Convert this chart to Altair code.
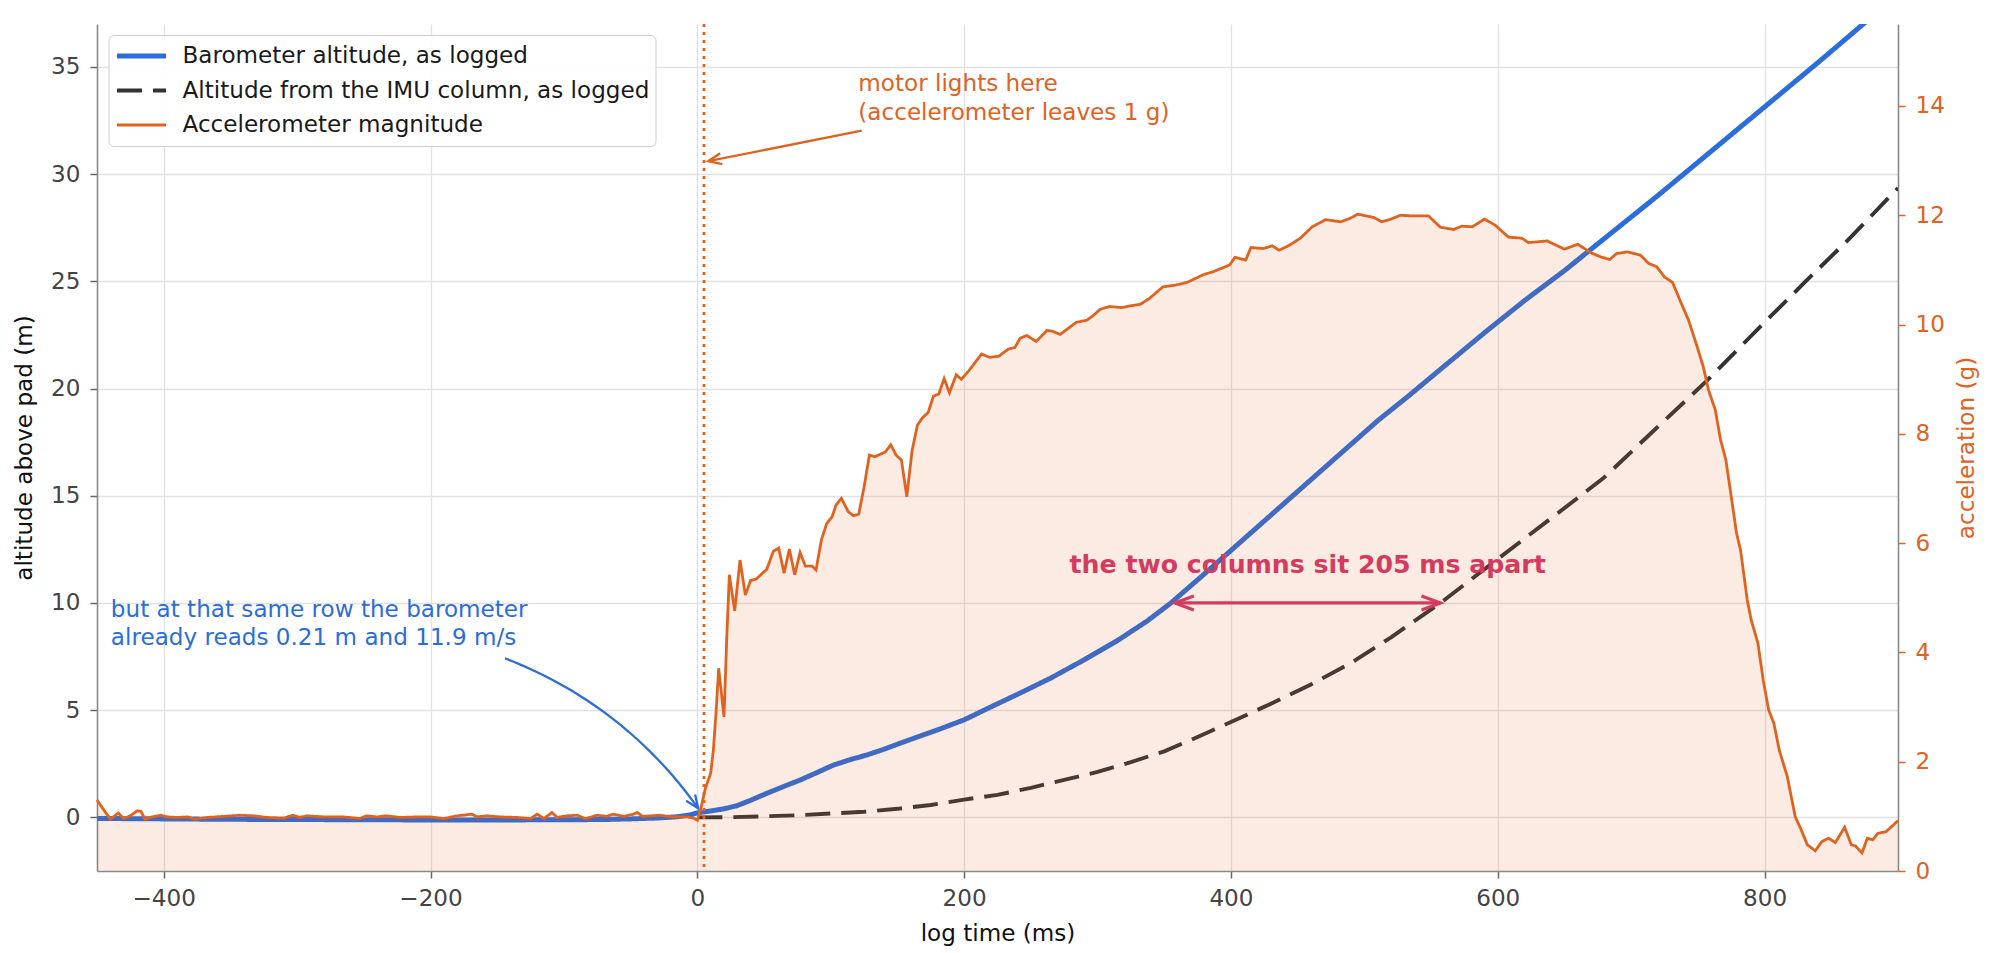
import math
import altair as alt
import pandas as pd

# ---------------- data ----------------
S_BARO = "Barometer altitude, as logged"
S_IMU = "Altitude from the IMU column, as logged"
S_ACC = "Accelerometer magnitude"
SERIES = [S_BARO, S_IMU, S_ACC]

BARO_T = [-450, -400, -350, -300, -250, -200, -150, -100, -70, -50,
          -30, -15, -5, 0, 10, 20, 30, 40, 52, 65,
          77, 90, 102, 115, 127, 140, 152, 165, 180, 200,
          220, 242, 265, 290, 315, 337, 355, 380, 400, 430,
          460, 490, 510, 534, 560, 590, 620, 650, 677, 692,
          720, 750, 780, 810, 840, 874, 900]
BARO_M = [-0.05, -0.07, -0.09, -0.10, -0.11, -0.12, -0.12, -0.11, -0.10, -0.07,
          -0.03, 0.03, 0.12, 0.21, 0.30, 0.40, 0.55, 0.80, 1.12, 1.45,
          1.74, 2.10, 2.44, 2.70, 2.91, 3.18, 3.46, 3.75, 4.08, 4.55,
          5.15, 5.80, 6.50, 7.35, 8.25, 9.15, 10.00, 11.35, 12.45, 14.10,
          15.75, 17.40, 18.50, 19.70, 21.05, 22.60, 24.10, 25.50, 26.85, 27.60,
          29.00, 30.55, 32.10, 33.65, 35.20, 37.00, 38.35]

IMU_T = [0, 25, 50, 75, 100, 125, 150, 175, 200, 225,
         250, 275, 300, 325, 350, 375, 400, 430, 460, 490,
         520, 557, 600, 640, 679, 718, 756, 797, 830, 865,
         900]
IMU_M = [0.00, 0.01, 0.05, 0.10, 0.18, 0.26, 0.40, 0.58, 0.83, 1.05,
         1.38, 1.75, 2.12, 2.58, 3.08, 3.75, 4.45, 5.30, 6.20, 7.20,
         8.40, 10.00, 12.05, 13.95, 15.81, 18.10, 20.32, 22.90, 24.95, 27.08,
         29.35]

ACC_PAD_T = [-450, -445, -440, -434, -430, -425, -420, -417, -414, -409,
             -402, -397, -390, -382, -377, -367, -355, -343, -333, -323,
             -310, -303, -298, -293, -280, -265, -253, -248, -240, -233,
             -223, -210, -200, -190, -180, -169, -165, -158, -148, -135,
             -125, -120, -115, -109, -105, -98, -90, -84, -75, -68,
             -63, -55, -48, -45, -41, -35, -28, -22, -16, -8,
             -3, 0]
ACC_PAD_G = [1.30, 1.12, 0.95, 1.06, 0.96, 1.01, 1.10, 1.09, 0.95, 0.99,
             1.02, 0.99, 0.98, 0.99, 0.95, 0.98, 1.00, 1.02, 1.01, 0.98,
             0.97, 1.02, 0.98, 1.01, 0.99, 0.99, 0.96, 1.01, 0.99, 1.01,
             0.98, 0.99, 0.99, 0.96, 1.01, 1.04, 0.99, 1.01, 0.99, 0.98,
             0.96, 1.04, 0.96, 1.07, 0.98, 1.01, 1.02, 0.96, 1.02, 1.00,
             1.04, 1.00, 1.04, 1.07, 1.00, 1.01, 1.02, 1.00, 0.99, 0.99,
             0.97, 0.93]

ACC_BURN_T = [3, 6, 10, 12, 14, 16, 20, 22, 24, 28,
              32, 36, 40, 44, 52, 57, 61, 65, 69, 73,
              77, 81, 86, 89, 93, 97, 101, 104, 108, 113,
              117, 121, 125, 129, 133, 141, 145, 149, 153, 157,
              161, 165, 169, 173, 177, 181, 185, 189, 194, 198]
ACC_BURN_G = [1.18, 1.51, 1.79, 2.21, 2.89, 3.71, 2.82, 4.23, 5.42, 4.76,
              5.69, 5.05, 5.32, 5.34, 5.52, 5.85, 5.91, 5.45, 5.89, 5.42,
              5.83, 5.58, 5.58, 5.51, 6.06, 6.36, 6.48, 6.70, 6.82, 6.58,
              6.50, 6.53, 7.03, 7.61, 7.58, 7.67, 7.80, 7.61, 7.52, 6.85,
              7.70, 8.16, 8.30, 8.39, 8.69, 8.73, 9.01, 8.75, 9.08, 9.00]

ACC_PLAT_T = [204, 213, 219, 226, 233, 238, 242, 247, 254, 262,
              266, 272, 278, 284, 292, 297, 302, 309, 318, 324,
              332, 339, 349, 358, 367, 374, 379, 387, 399, 403,
              411, 415, 424, 431, 436, 443, 452, 461, 471, 482,
              489, 495, 507, 513, 520, 527, 534]
ACC_PLAT_G = [9.17, 9.46, 9.40, 9.42, 9.55, 9.58, 9.75, 9.80, 9.69, 9.89,
              9.88, 9.82, 9.93, 10.04, 10.08, 10.17, 10.28, 10.33, 10.31, 10.34,
              10.37, 10.48, 10.69, 10.72, 10.77, 10.85, 10.91, 10.97, 11.09, 11.23,
              11.18, 11.41, 11.39, 11.44, 11.36, 11.44, 11.58, 11.79, 11.92, 11.88,
              11.94, 12.02, 11.96, 11.88, 11.93, 12.00, 11.99]

ACC_END_T = [548, 557, 567, 573, 581, 590, 598, 608, 618, 623,
             637, 650, 660, 670, 677, 684, 689, 697, 707, 713,
             719, 725, 731, 737, 743, 749, 754, 758, 763, 767,
             771, 775, 779, 782, 787, 790, 795, 799, 803, 807,
             811, 817, 823, 827, 832, 838, 843, 848, 853, 860,
             865, 868, 873, 877, 881, 885, 891, 900]
ACC_END_G = [11.99, 11.78, 11.74, 11.80, 11.79, 11.93, 11.82, 11.60, 11.58, 11.50,
             11.53, 11.38, 11.47, 11.31, 11.24, 11.19, 11.30, 11.33, 11.27, 11.12,
             11.06, 10.87, 10.77, 10.42, 10.08, 9.63, 9.23, 8.80, 8.44, 7.89,
             7.52, 6.85, 6.18, 5.87, 4.96, 4.59, 4.17, 3.49, 2.95, 2.70,
             2.21, 1.73, 0.99, 0.78, 0.48, 0.37, 0.54, 0.60, 0.52, 0.80,
             0.48, 0.46, 0.33, 0.60, 0.57, 0.69, 0.72, 0.92]

# annotations (data units: ms, metres)
IGNITION_T = [5]
MOTOR_NOTE_T = [120.7, 120.7]
MOTOR_NOTE_M = [34.2, 32.84]
MOTOR_NOTE = ["motor lights here", "(accelerometer leaves 1 g)"]
MOTOR_ARROW_T = [123.2, 8.2]
MOTOR_ARROW_M = [32.03, 30.6]

BARO_NOTE_T = [-439.6, -439.6]
BARO_NOTE_M = [9.67, 8.35]
BARO_NOTE = ["but at that same row the barometer", "already reads 0.21 m and 11.9 m/s"]
BARO_ARROW_T = [-144.2, 0.7]
BARO_ARROW_M = [7.42, 0.42]
BARO_ARROW_RAD = -0.15

GAP_T = [358, 557]
GAP_M = [10.0, 10.0]
GAP_NOTE_T = [457.5]
GAP_NOTE_M = [11.77]
GAP_NOTE = ["the two columns sit 205 ms apart"]

X_DOMAIN = [-450, 900]
YL_DOMAIN = [-2.5, 37]
YR_DOMAIN = [0, 15.5]
X_TICKS = [-400, -200, 0, 200, 400, 600, 800]
YL_TICKS = [0, 5, 10, 15, 20, 25, 30, 35]
YR_TICKS = [0, 2, 4, 6, 8, 10, 12, 14]

# ---------------- styling ----------------
W, H = 1801, 847
FONT = "DejaVu Sans"
BLUE = "#2a6ddb"
DARK = "#333333"
ORANGE = "#e0621f"
CRIMSON = "#d1366a"
FS = 23.1

PX_T = W / (X_DOMAIN[1] - X_DOMAIN[0])
PX_M = H / (YL_DOMAIN[1] - YL_DOMAIN[0])


def to_screen(t, m):
    return (t - X_DOMAIN[0]) * PX_T, (YL_DOMAIN[1] - m) * PX_M


def to_data(sx, sy):
    return X_DOMAIN[0] + sx / PX_T, YL_DOMAIN[1] - sy / PX_M


def screen_angle(t0, m0, t1, m1):
    x0, y0 = to_screen(t0, m0)
    x1, y1 = to_screen(t1, m1)
    return math.degrees(math.atan2(y1 - y0, x1 - x0)) % 360


def arc_path(t0, m0, t1, m1, rad, n=24):
    """matplotlib-style arc3 connector, returned in data units plus end angle."""
    x0, y0 = to_screen(t0, m0)
    x1, y1 = to_screen(t1, m1)
    u0, v0, u1, v1 = x0, -y0, x1, -y1
    dx, dy = u1 - u0, v1 - v0
    cu, cv = (u0 + u1) / 2 + rad * dy, (v0 + v1) / 2 - rad * dx
    ts, ms = [], []
    for i in range(n + 1):
        s = i / n
        u = (1 - s) ** 2 * u0 + 2 * (1 - s) * s * cu + s ** 2 * u1
        v = (1 - s) ** 2 * v0 + 2 * (1 - s) * s * cv + s ** 2 * v1
        t, m = to_data(u, -v)
        ts.append(t)
        ms.append(m)
    ang = math.degrees(math.atan2(-(v1 - cv), u1 - cu)) % 360
    return ts, ms, ang


X_ENC = alt.X("t:Q", scale=alt.Scale(domain=X_DOMAIN, nice=False, zero=False),
              axis=alt.Axis(values=X_TICKS, title="log time (ms)", grid=True,
                            labelPadding=9, titlePadding=12))
YL_ENC = alt.Y("m:Q", scale=alt.Scale(domain=YL_DOMAIN, nice=False, zero=False),
               axis=alt.Axis(values=YL_TICKS, title="altitude above pad (m)", grid=True,
                             labelPadding=10, titlePadding=14))
YR_ENC = alt.Y("g:Q", scale=alt.Scale(domain=YR_DOMAIN, nice=False, zero=False),
               axis=alt.Axis(values=YR_TICKS, title="acceleration (g)", orient="right", grid=False,
                             labelColor=ORANGE, tickColor=ORANGE, titleColor=ORANGE,
                             titleAngle=270, labelPadding=10, titlePadding=34))

legend = alt.Legend(
    title=None, orient="none", legendX=11.5, legendY=11,
    symbolType="stroke", symbolSize=2401, clipHeight=30,
    labelFontSize=FS, labelFont=FONT, labelColor="#1a1a1a",
    labelOffset=14, labelLimit=0, padding=6, rowPadding=4.5,
    strokeColor="#cfcfcf", fillColor="rgba(255,255,255,0.9)", cornerRadius=5,
)
color_enc = alt.Color("series:N", scale=alt.Scale(domain=SERIES, range=[BLUE, DARK, ORANGE]), legend=legend)
dash_enc = alt.StrokeDash("series:N", scale=alt.Scale(domain=SERIES, range=[[1, 0], [25, 11], [1, 0]]), legend=legend)
width_enc = alt.StrokeWidth("series:N", scale=alt.Scale(type="point", domain=SERIES, range=[5.0, 2.8], padding=0), legend=legend)

# ---------------- frames ----------------
alt_df = pd.concat([
    pd.DataFrame({"t": BARO_T, "m": BARO_M, "series": S_BARO}),
    pd.DataFrame({"t": IMU_T, "m": IMU_M, "series": S_IMU}),
], ignore_index=True)

acc_df = pd.DataFrame({
    "t": ACC_PAD_T + ACC_BURN_T + ACC_PLAT_T + ACC_END_T,
    "g": ACC_PAD_G + ACC_BURN_G + ACC_PLAT_G + ACC_END_G,
})
acc_df["series"] = S_ACC

# ---------------- left (altitude) layers ----------------
alt_lines = alt.Chart(alt_df).mark_line(clip=True).encode(
    x=X_ENC, y=YL_ENC, color=color_enc, strokeDash=dash_enc, strokeWidth=width_enc,
    order="t:Q",
)

ignition = alt.Chart(pd.DataFrame({"t": IGNITION_T})).mark_rule(
    color=ORANGE, strokeWidth=2.8, strokeDash=[3, 5]
).encode(x=X_ENC)

motor_arrow = alt.Chart(pd.DataFrame({"t": MOTOR_ARROW_T, "m": MOTOR_ARROW_M})).mark_line(
    color=ORANGE, strokeWidth=2.3
).encode(x=X_ENC, y=YL_ENC)

arc_t, arc_m, arc_angle = arc_path(BARO_ARROW_T[0], BARO_ARROW_M[0],
                                   BARO_ARROW_T[1], BARO_ARROW_M[1], BARO_ARROW_RAD)
baro_arrow = alt.Chart(pd.DataFrame({"t": arc_t, "m": arc_m, "k": list(range(len(arc_t)))})).mark_line(
    color=BLUE, strokeWidth=2.3
).encode(x=X_ENC, y=YL_ENC, order="k:Q")

gap_arrow = alt.Chart(pd.DataFrame({"t": GAP_T, "m": GAP_M})).mark_line(
    color=CRIMSON, strokeWidth=3.2
).encode(x=X_ENC, y=YL_ENC)

SMALL_HEAD = "M-2.4,-1L0,0L-2.4,1"
BIG_HEAD = "M-2.7,-1L0,0L-2.7,1"


def head(t, m, angle, color, shape, size, sw):
    return alt.Chart(pd.DataFrame({"t": [t], "m": [m]})).mark_point(
        shape=shape, size=size, filled=False, color=color, strokeWidth=sw,
        opacity=1, angle=angle, strokeJoin="miter",
    ).encode(x=X_ENC, y=YL_ENC)


heads = [
    head(MOTOR_ARROW_T[-1], MOTOR_ARROW_M[-1],
         screen_angle(MOTOR_ARROW_T[0], MOTOR_ARROW_M[0], MOTOR_ARROW_T[-1], MOTOR_ARROW_M[-1]),
         ORANGE, SMALL_HEAD, 121, 2.3),
    head(BARO_ARROW_T[-1], BARO_ARROW_M[-1], arc_angle, BLUE, SMALL_HEAD, 121, 2.3),
    head(GAP_T[0], GAP_M[0], 180, CRIMSON, BIG_HEAD, 196, 3.2),
    head(GAP_T[1], GAP_M[1], 0, CRIMSON, BIG_HEAD, 196, 3.2),
]

motor_text = alt.Chart(pd.DataFrame({"t": MOTOR_NOTE_T, "m": MOTOR_NOTE_M, "label": MOTOR_NOTE})).mark_text(
    align="left", baseline="middle", fontSize=FS, font=FONT, color=ORANGE
).encode(x=X_ENC, y=YL_ENC, text="label:N")

baro_text = alt.Chart(pd.DataFrame({"t": BARO_NOTE_T, "m": BARO_NOTE_M, "label": BARO_NOTE})).mark_text(
    align="left", baseline="middle", fontSize=FS, font=FONT, color=BLUE
).encode(x=X_ENC, y=YL_ENC, text="label:N")

gap_text = alt.Chart(pd.DataFrame({"t": GAP_NOTE_T, "m": GAP_NOTE_M, "label": GAP_NOTE})).mark_text(
    align="center", baseline="middle", fontSize=25.2, font=FONT, fontWeight="bold", color=CRIMSON
).encode(x=X_ENC, y=YL_ENC, text="label:N")

left = alt.layer(alt_lines, ignition, motor_arrow, baro_arrow, gap_arrow, *heads,
                 motor_text, baro_text, gap_text)

# ---------------- right (acceleration) layers ----------------
acc_fill = alt.Chart(acc_df).mark_area(color=ORANGE, opacity=0.13).encode(
    x=X_ENC, y=YR_ENC
)
acc_line = alt.Chart(acc_df).mark_line().encode(
    x=X_ENC, y=YR_ENC, color=color_enc, strokeDash=dash_enc, strokeWidth=width_enc
)
right = alt.layer(acc_fill, acc_line)

chart = alt.layer(left, right).resolve_scale(y="independent").properties(
    width=W, height=H,
    padding={"left": 89, "top": 16, "right": 94, "bottom": 80},
    autosize=alt.AutoSizeParams(type="none"),
).configure(font=FONT).configure_view(strokeWidth=0).configure_axis(
    labelFont=FONT, titleFont=FONT, labelFontSize=FS, titleFontSize=FS,
    titleFontWeight="normal", labelColor="#444444", titleColor="#111111",
    tickSize=7, tickWidth=1.5, tickColor="#666666",
    domainColor="#8a8a8a", domainWidth=1.6,
    gridColor="#e2e2e2", gridWidth=1.3,
)

chart.save("out.html", embed_options={"renderer": "svg", "actions": False})
